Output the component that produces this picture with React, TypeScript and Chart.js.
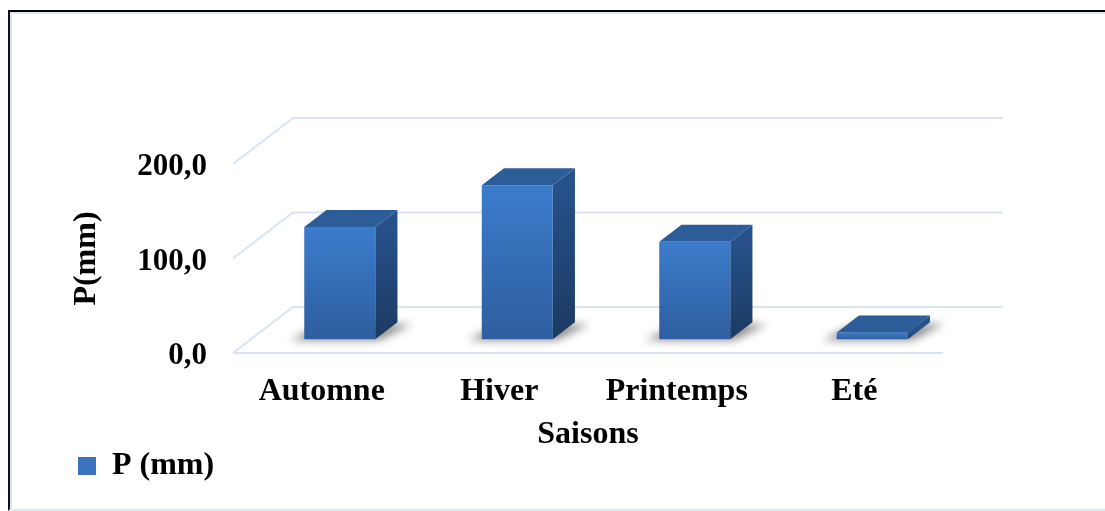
import React, { useEffect, useRef } from "react";
import { Chart, registerables } from "chart.js";

Chart.register(...registerables);

const categories = ["Automne", "Hiver", "Printemps", "Eté"];
const precipitation = [118.8, 163.0, 103.0, 7.1];
const yTickValues = [0, 100, 200];
const seriesLabel = "P (mm)";
const xTitle = "Saisons";
const yTitle = "P(mm)";

const FONT = '"Liberation Serif", "Times New Roman", serif';
const DEPTH = { x: 60, y: -46 };
const BAR_FRONT = 0.3;
const BAR_BACK = 0.67;

const bars3d = {
  id: "bars3d",
  beforeDatasetsDraw(chart: any) {
    const { ctx, chartArea, scales } = chart;
    const ys = scales.y;
    ctx.save();
    // walls / grid
    ctx.strokeStyle = "#d8e4f3";
    ctx.lineWidth = 2;
    yTickValues.forEach((t) => {
      const py = ys.getPixelForValue(t);
      ctx.beginPath();
      ctx.moveTo(chartArea.left, py);
      ctx.lineTo(chartArea.left + DEPTH.x, py + DEPTH.y);
      ctx.lineTo(chartArea.right + DEPTH.x, py + DEPTH.y);
      ctx.stroke();
    });
    const p0 = ys.getPixelForValue(0);
    ctx.beginPath();
    ctx.moveTo(chartArea.left, p0);
    ctx.lineTo(chartArea.right, p0);
    ctx.stroke();

    const meta = chart.getDatasetMeta(0);
    const fx = DEPTH.x * BAR_FRONT;
    const fy = DEPTH.y * BAR_FRONT;
    const dx = DEPTH.x * (BAR_BACK - BAR_FRONT);
    const dy = DEPTH.y * (BAR_BACK - BAR_FRONT);
    meta.data.forEach((el: any) => {
      const { x, y, base, width } = el.getProps(["x", "y", "base", "width"], true);
      const l = x - width / 2 + fx;
      const r = x + width / 2 + fx;
      const t = y + fy;
      const b = base + fy;

      // shadow
      ctx.save();
      ctx.filter = "blur(4px)";
      ctx.fillStyle = "rgba(0,0,0,0.45)";
      ctx.beginPath();
      ctx.moveTo(l - 14, b + 1);
      ctx.lineTo(r + 4, b + 1);
      ctx.lineTo(r + dx + 14, b + dy + 2);
      ctx.lineTo(l + dx - 4, b + dy + 2);
      ctx.closePath();
      ctx.fill();
      ctx.restore();

      // side face
      const sg = ctx.createLinearGradient(0, t, 0, b);
      sg.addColorStop(0, "#26518a");
      sg.addColorStop(1, "#1c3a62");
      ctx.fillStyle = sg;
      ctx.beginPath();
      ctx.moveTo(r, t);
      ctx.lineTo(r + dx, t + dy);
      ctx.lineTo(r + dx, b + dy);
      ctx.lineTo(r, b);
      ctx.closePath();
      ctx.fill();

      // top face
      ctx.fillStyle = "#2c5d98";
      ctx.beginPath();
      ctx.moveTo(l, t);
      ctx.lineTo(l + dx, t + dy);
      ctx.lineTo(r + dx, t + dy);
      ctx.lineTo(r, t);
      ctx.closePath();
      ctx.fill();

      // front face
      const fg = ctx.createLinearGradient(0, t, 0, b);
      fg.addColorStop(0, "#3b7ccc");
      fg.addColorStop(1, "#2e5e9e");
      ctx.fillStyle = fg;
      ctx.fillRect(l, t, r - l, b - t);
    });
    ctx.restore();
    return false;
  },
};

export default function App() {
  const ref = useRef<HTMLCanvasElement | null>(null);

  useEffect(() => {
    if (!ref.current) return;
    const chart = new Chart(ref.current, {
      type: "bar",
      data: {
        labels: categories,
        datasets: [
          {
            label: seriesLabel,
            data: precipitation,
            backgroundColor: "#3b73bf",
            borderWidth: 0,
            barPercentage: 0.4,
            categoryPercentage: 1.0,
          },
        ],
      },
      options: {
        animation: false,
        responsive: false,
        layout: { padding: { left: 66, right: 162, top: 164, bottom: 19 } },
        plugins: {
          tooltip: { enabled: false },
          legend: {
            display: true,
            position: "bottom",
            align: "start",
            labels: {
              color: "#000",
              font: { family: FONT, size: 32, weight: "bold" },
              boxWidth: 18,
              boxHeight: 18,
              padding: 12,
            },
          },
        },
        scales: {
          x: {
            grid: { display: false, drawTicks: false },
            border: { display: false },
            ticks: {
              color: "#000",
              font: { family: FONT, size: 32, weight: "bold" },
              padding: 20,
              maxRotation: 0,
              minRotation: 0,
              autoSkip: false,
            },
            title: {
              display: true,
              text: xTitle,
              color: "#000",
              font: { family: FONT, size: 32, weight: "bold" },
              padding: { top: 0, bottom: -16 },
            },
            afterFit: (s: any) => {
              s.height = 85;
            },
          },
          y: {
            min: 0,
            max: 200,
            grid: { display: false, drawTicks: false },
            border: { display: false },
            ticks: {
              stepSize: 100,
              color: "#000",
              font: { family: FONT, size: 31, weight: "bold" },
              padding: 26,
              labelOffset: 3,
              callback: (v: any) => Number(v).toFixed(1).replace(".", ","),
            },
            title: {
              display: true,
              text: yTitle,
              color: "#000",
              font: { family: FONT, size: 32, weight: "bold" },
              padding: { top: 2, bottom: 0 },
            },
            afterFit: (s: any) => {
              s.width = 167;
            },
          },
        },
      },
      plugins: [bars3d],
    } as any);
    return () => chart.destroy();
  }, []);

  return (
    <div style={{ position: "fixed", left: 0, top: 0, width: 1105, height: 511, overflow: "hidden", background: "#fff" }}>
      <div
        style={{
          position: "absolute",
          left: 8,
          top: 10,
          width: 1130,
          height: 501,
          boxSizing: "border-box",
          borderTop: "2px solid #000",
          borderLeft: "2px solid #111",
          borderBottom: "2px solid #dfe8f4",
          boxShadow: "inset 2px 2px 0 #dce6f3",
        }}
      />
      <canvas
        ref={ref}
        width={1105}
        height={511}
        style={{ position: "absolute", left: 0, top: 0, width: 1105, height: 511 }}
      />
    </div>
  );
}
